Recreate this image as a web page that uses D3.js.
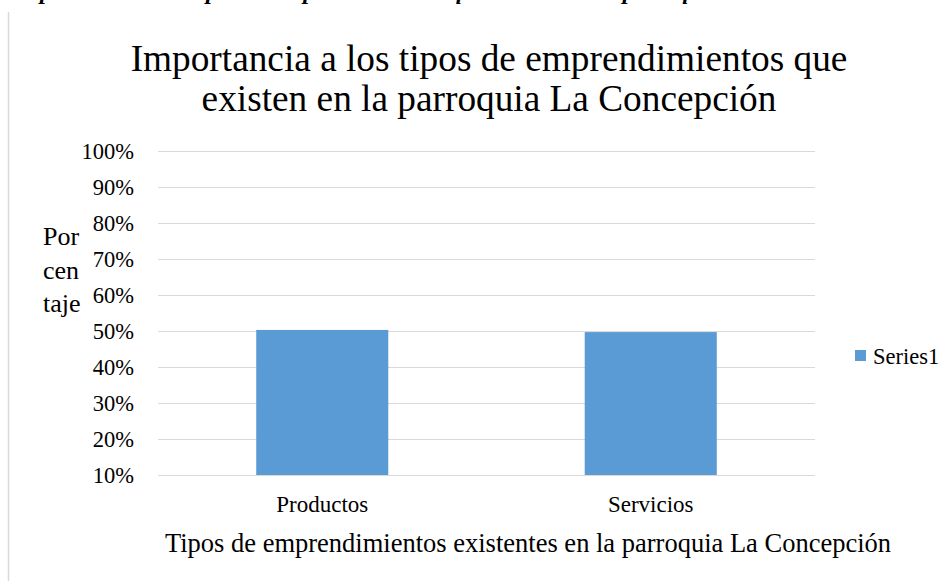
<!DOCTYPE html>
<html lang="es">
<head>
<meta charset="utf-8">
<title>Importancia a los tipos de emprendimientos</title>
<script src="https://cdnjs.cloudflare.com/ajax/libs/d3/7.8.5/d3.min.js"></script>
<style>
  body { margin: 0; background: #fff; }
  svg { display: block; font-family: "Liberation Serif", "Times New Roman", serif; }
  .grid line { stroke: #d9d9d9; stroke-width: 1px; }
  .grid text { font-family: "Liberation Serif", "Times New Roman", serif; font-size: 22.5px; fill: #000; }
</style>
</head>
<body>
<div id="chart"></div>
<script>
// data
var categories = ["Productos", "Servicios"];
var values = [0.503, 0.497];
var seriesName = "Series1";
var yTicks = [0.1, 0.2, 0.3, 0.4, 0.5, 0.6, 0.7, 0.8, 0.9, 1.0];
var titleLines = ["Importancia a los tipos de emprendimientos que", "existen en la parroquia La Concepción"];
var yTitleLines = ["Por", "cen", "taje"];
var xTitle = "Tipos de emprendimientos existentes en la parroquia La Concepción";
var caption = "Importancia a los tipos de emprendimientos que existen en la parroquia";

var width = 951, height = 581;
var plot = { left: 158, right: 815, top: 151, bottom: 475 };
var barColor = "#5b9bd5";

var svg = d3.select("#chart")
  .append("svg")
  .attr("width", width)
  .attr("height", height);

svg.append("rect")
  .attr("width", width)
  .attr("height", height)
  .attr("fill", "#fff");

// caption of the figure, cut off by the top edge
svg.append("text")
  .attr("x", 12)
  .attr("y", -1)
  .style("font-style", "italic")
  .style("font-weight", "bold")
  .style("font-size", "24px")
  .text(caption);

// chart frame (only left edge visible)
svg.append("line")
  .attr("x1", 8.5).attr("x2", 8.5)
  .attr("y1", 12).attr("y2", height)
  .attr("stroke", "#d9d9d9")
  .attr("stroke-width", 1.5);

var x = d3.scaleBand()
  .domain(categories)
  .range([plot.left, plot.right])
  .paddingInner(0.598)
  .paddingOuter(0.299);

var y = d3.scaleLinear()
  .domain([0.1, 1.0])
  .range([plot.bottom, plot.top]);

// gridlines + y tick labels
var grid = svg.append("g")
  .attr("class", "grid")
  .attr("transform", "translate(" + plot.left + ",0)")
  .call(d3.axisLeft(y)
    .tickValues(yTicks)
    .tickSize(-(plot.right - plot.left))
    .tickPadding(24)
    .tickFormat(d3.format(".0%")));
grid.attr("font-family", null).attr("font-size", null);
grid.select(".domain").remove();
grid.selectAll("text").attr("dy", "0.34em");

// bars
svg.append("g")
  .selectAll("rect")
  .data(values)
  .join("rect")
  .attr("x", function (d, i) { return x(categories[i]); })
  .attr("y", function (d) { return y(d); })
  .attr("width", x.bandwidth())
  .attr("height", function (d) { return y(0.1) - y(d); })
  .attr("fill", barColor);

// x category labels
svg.append("g")
  .selectAll("text")
  .data(categories)
  .join("text")
  .attr("x", function (d) { return x(d) + x.bandwidth() / 2; })
  .attr("y", 512)
  .attr("text-anchor", "middle")
  .style("font-size", "23px")
  .text(function (d) { return d; });

// title
svg.append("g")
  .selectAll("text")
  .data(titleLines)
  .join("text")
  .attr("x", 489)
  .attr("y", function (d, i) { return 71 + i * 40; })
  .attr("text-anchor", "middle")
  .style("font-size", "37.3px")
  .text(function (d) { return d; });

// y axis title
svg.append("g")
  .selectAll("text")
  .data(yTitleLines)
  .join("text")
  .attr("x", 43)
  .attr("y", function (d, i) { return 245 + i * 33.5; })
  .style("font-size", "26px")
  .text(function (d) { return d; });

// x axis title
svg.append("text")
  .attr("x", 528)
  .attr("y", 552)
  .attr("text-anchor", "middle")
  .style("font-size", "26.5px")
  .text(xTitle);

// legend
var legend = svg.append("g").attr("transform", "translate(855,350)");
legend.append("rect")
  .attr("width", 11)
  .attr("height", 11)
  .attr("fill", barColor);
legend.append("text")
  .attr("x", 18)
  .attr("y", 14)
  .style("font-size", "22.5px")
  .text(seriesName);
</script>
</body>
</html>
